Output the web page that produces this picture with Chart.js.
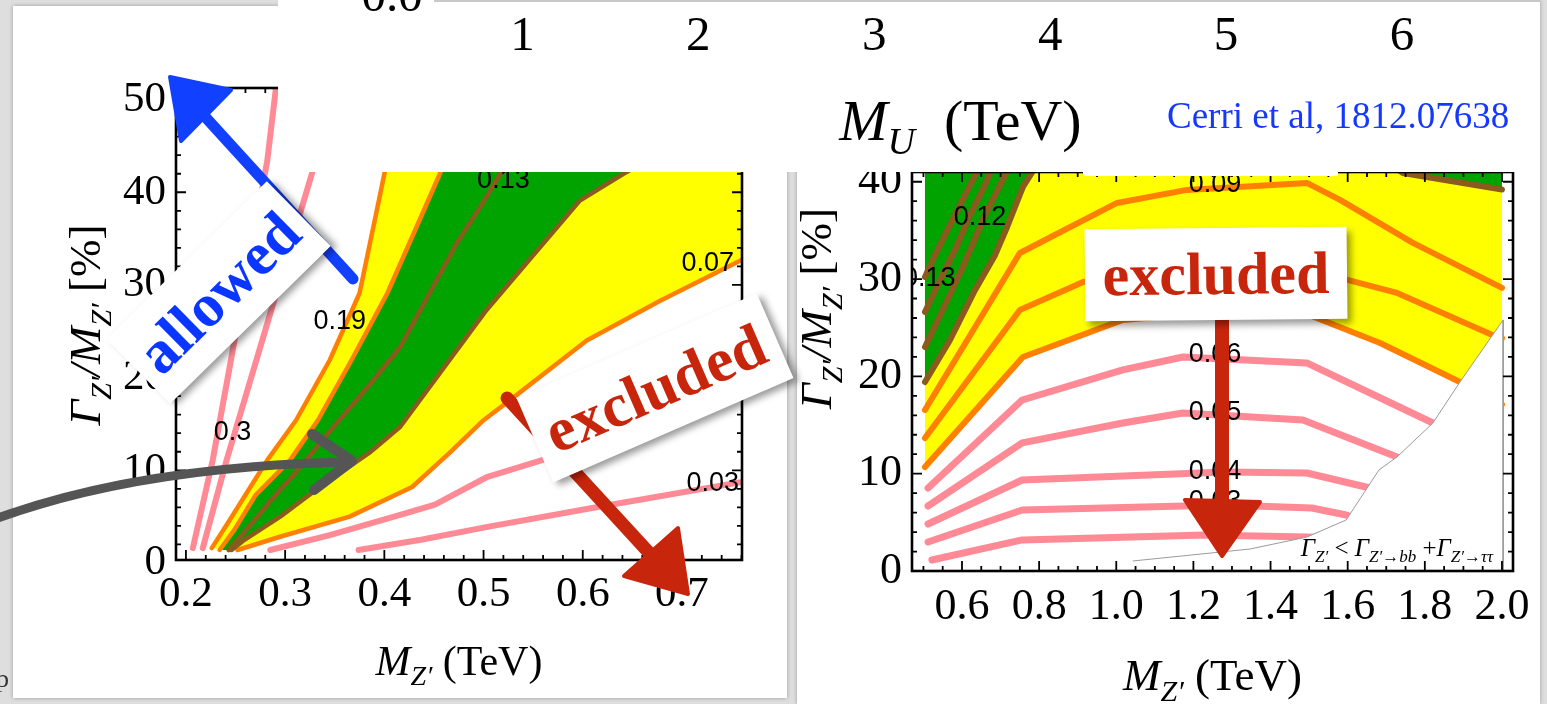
<!DOCTYPE html>
<html><head><meta charset="utf-8">
<script src="https://cdn.jsdelivr.net/npm/chart.js@4.4.1/dist/chart.umd.min.js"></script>
<style>
html,body{margin:0;padding:0}
body{width:1547px;height:704px;overflow:hidden;position:relative;background:#dedede}
.abs{position:absolute;display:block}
#leftCard{left:13px;top:6px;width:774px;height:692px;background:#fff;box-shadow:0 0 4px rgba(0,0,0,.3)}
#rightCard{left:797px;top:0;width:743px;height:704px;background:#fff;box-shadow:0 0 4px rgba(0,0,0,.3)}
#topBox{left:278px;top:0;width:1262px;height:172px;background:#fff}
#bump{left:1083px;top:0;width:255px;height:176px;background:#fff}
#topLine{left:434px;top:0;width:1106px;height:2px;background:#c8c8c8}
.note{position:absolute;background:#fff;box-shadow:4px 5px 7px rgba(0,0,0,.4);text-align:center;font-family:"Liberation Serif",serif;font-weight:bold;white-space:nowrap}
</style></head><body>
<div id="leftCard" class="abs"></div>
<div id="rightCard" class="abs"></div>
<canvas id="cL" class="abs" width="774" height="692" style="left:13px;top:6px"></canvas>
<canvas id="cR" class="abs" width="743" height="604" style="left:797px;top:100px"></canvas>
<svg class="abs" style="left:0;top:0" width="1547" height="704">
  <g stroke-linecap="round" stroke-linejoin="round">
    <line x1="353" y1="279" x2="198" y2="109" stroke="#1240ff" stroke-width="11"/>
    <polygon points="170,77 231,90 181,141" fill="#1240ff" stroke="#1240ff" stroke-width="4"/>
    <line x1="507" y1="398" x2="652" y2="556" stroke="#c8260c" stroke-width="13"/>
    <polygon points="624,576 678,528 688,594" fill="#c8260c" stroke="#c8260c" stroke-width="4"/>
    <line x1="1222" y1="315" x2="1222" y2="520" stroke="#c8260c" stroke-width="14"/>
    <polygon points="1185,500 1260,502 1222,556" fill="#c8260c" stroke="#c8260c" stroke-width="4"/>
    <path d="M -2 518 C 70 492, 180 466, 345 462" fill="none" stroke="#555" stroke-width="9"/>
    <polyline points="312,434 352,461 314,490" fill="none" stroke="#555" stroke-width="10"/>
  </g>
</svg>
<div class="note" style="left:105.5px;top:246.5px;width:225px;height:91px;line-height:91px;font-size:61px;color:#0b36ff;transform:rotate(-44.5deg)">allowed</div>
<div class="note" style="left:524px;top:342px;width:262px;height:92px;line-height:92px;font-size:62px;color:#c8260c;transform:rotate(-23.5deg)">excluded</div>
<div class="note" style="left:1085px;top:228px;width:262px;height:92px;line-height:92px;font-size:60px;color:#c8260c;transform:rotate(-0.6deg)">excluded</div>
<div id="topBox" class="abs"></div>
<div id="bump" class="abs"></div>
<div id="topLine" class="abs"></div>
<canvas id="cT" class="abs" width="1262" height="172" style="left:278px;top:0"></canvas>
<div class="abs" style="left:-4px;top:664px;font:26px 'Liberation Serif',serif;color:#333">p</div>
<script>
// ---------------- data: left panel (M_Z' in TeV, Gamma/M in %) ----------------
const L_X_TICKS = [0.2, 0.3, 0.4, 0.5, 0.6, 0.7];
const L_Y_TICKS = [0, 10, 20, 30, 40, 50];
const L_PINK_030   = [[0.207,1.6],[0.227,11.1],[0.282,43.4],[0.291,51.5]];
const L_PINK_022   = [[0.217,1.6],[0.241,11.1],[0.327,42.0],[0.355,51.5]];
const L_ORANGE_019 = [[0.226,1.6],[0.244,4.6],[0.265,8.2],[0.282,11.1],[0.311,15.4],[0.345,21.9],[0.375,29.1],[0.396,39.9],[0.411,47.7]];
const L_ORANGE_016 = [[0.234,1.4],[0.249,3.6],[0.270,7.3],[0.305,11.1],[0.333,15.4],[0.367,21.9],[0.403,29.1],[0.431,35.9],[0.456,42.0],[0.481,48.8]];
const L_BROWN_013  = [[0.243,1.4],[0.265,4.1],[0.290,7.3],[0.315,10.3],[0.348,14.6],[0.385,19.2],[0.416,23.3],[0.473,34.5],[0.499,38.8],[0.517,42.0],[0.532,45.6]];
const L_BROWN_010  = [[0.246,1.4],[0.259,2.5],[0.295,5.0],[0.335,8.2],[0.385,11.9],[0.416,14.7],[0.503,27.3],[0.597,39.1],[0.641,42.0],[0.718,46.7]];
const L_ORANGE_007 = [[0.252,1.4],[0.294,2.8],[0.365,5.0],[0.428,8.2],[0.466,11.9],[0.500,15.4],[0.527,17.6],[0.604,24.0],[0.678,28.3],[0.764,32.9]];
const L_PINK_005   = [[0.285,1.4],[0.345,3.0],[0.416,5.2],[0.451,6.3],[0.504,9.3],[0.559,11.1],[0.617,13.3],[0.698,15.9],[0.764,18.1]];
const L_PINK_003   = [[0.374,1.4],[0.437,2.5],[0.504,3.9],[0.608,5.9],[0.764,8.8]];
const L_LABELS = [['0.3',0.247,14.1],['0.19',0.355,26.0],['0.13',0.520,41.3],['0.07',0.726,32.3],['0.03',0.731,8.6]];

// ---------------- data: right panel ----------------
const R_X_TICKS = [0.6, 0.8, 1.0, 1.2, 1.4, 1.6, 1.8, 2.0];
const R_Y_TICKS = [0, 10, 20, 30, 40];
const R_PINK_002   = [[0.522,1.13],[0.756,3.19],[1.230,3.70],[1.494,3.49],[1.736,3.19]];
const R_PINK_003   = [[0.512,2.98],[0.756,6.27],[1.282,6.78],[1.507,6.47],[1.596,5.76],[1.787,3.19]];
const R_PINK_004   = [[0.512,4.83],[0.756,9.35],[1.282,10.17],[1.494,10.07],[1.658,8.53],[1.813,6.27]];
const R_PINK_005   = [[0.512,6.68],[0.756,13.16],[1.017,15.21],[1.173,16.24],[1.484,15.52],[1.728,11.72],[1.865,9.35]];
const R_PINK_006   = [[0.512,8.53],[0.756,17.57],[1.017,20.66],[1.173,21.99],[1.494,21.38],[1.821,15.21],[1.943,12.95]];
const R_ORANGE_007 = [[0.504,10.69],[0.758,21.99],[1.017,25.80],[1.248,26.62],[1.5,26.31],[1.684,23.43],[1.891,19.42],[2.0,17.1]];
const R_ORANGE_008 = [[0.504,13.67],[0.750,26.82],[0.914,29.70],[1.165,31.45],[1.5,30.94],[1.728,28.57],[1.987,24.05],[2.0,23.9]];
const R_ORANGE_009 = [[0.504,16.55],[0.750,32.68],[1.002,37.82],[1.183,39.16],[1.494,39.88],[1.580,38.13],[1.769,33.71],[2.0,29.1]];
const R_BROWN_010  = [[0.504,19.42],[0.569,23.74],[0.634,28.88],[0.686,32.48],[0.717,35.35],[0.758,39.47],[0.802,42.24],[0.958,47.38],[1.347,48.92],[1.606,44.81],[1.743,40.90],[2.0,39.2]];
const R_BROWN_011  = [[0.504,23.02],[0.556,27.34],[0.608,31.76],[0.660,36.59],[0.699,39.67],[0.717,41.01],[0.737,42.75]];
const R_BROWN_012  = [[0.504,26.62],[0.543,29.91],[0.582,32.99],[0.621,36.59],[0.660,39.67],[0.673,41.01],[0.693,43.27]];
const R_BROWN_013  = [[0.504,30.22],[0.530,32.48],[0.569,35.56],[0.608,38.64],[0.639,41.01],[0.660,43.27]];
const R_LIMIT      = [[1.043,1.03],[1.347,2.26],[1.494,3.49],[1.596,5.24],[1.681,10.38],[1.728,11.72],[1.821,15.21],[1.891,19.42],[2.003,25.80]];
const R_LABELS = [['0.09',1.256,39.7],['0.06',1.256,22.2],['0.05',1.256,16.3],['0.04',1.256,10.2],['0.03',1.256,7.1],['0.12',0.647,36.3],['0.13',0.515,30.1]];

// ---------------- data: top (M_U) axis ----------------
const MU_TICKS = [1, 2, 3, 4, 5, 6];

// ---------------- styling helpers ----------------
const PINK = '#ff8a95', ORANGE = '#ff8000', BROWN = '#8b5a1e', YELLOW = '#ffff00', GREEN = '#00a300';
const SERIF = '"Liberation Serif", "Times New Roman", serif';
const pts = a => a.map(([x, y]) => ({x, y}));
const rev = a => a.slice().reverse();
function lineDS(arr, color, w) {
  return {data: pts(arr), borderColor: color, borderWidth: w, pointRadius: 0, fill: false, tension: 0,
          borderJoinStyle: 'round', borderCapStyle: 'round', order: 10};
}
function polyDS(arr, color, order, stroke) {
  return {data: pts(arr), borderColor: stroke || 'rgba(0,0,0,0)', borderWidth: stroke ? 1 : 0,
          backgroundColor: color, fill: 'shape', pointRadius: 0, tension: 0, order};
}
function fontOf(p, size) {
  const s = p.sub ? Math.round(size * 0.66) : size;
  return (p.it ? 'italic ' : '') + s + 'px ' + SERIF;
}
function drawRich(ctx, parts, size, x, y, align) {
  let w = 0;
  for (const p of parts) { ctx.font = fontOf(p, size); w += ctx.measureText(p.t).width; }
  let cx = align === 'left' ? x : align === 'right' ? x - w : x - w / 2;
  ctx.textAlign = 'left'; ctx.textBaseline = 'alphabetic';
  for (const p of parts) {
    ctx.font = fontOf(p, size);
    ctx.fillText(p.t, cx, y + (p.sub ? size * 0.24 : 0));
    cx += ctx.measureText(p.t).width;
  }
}
const GZ_TITLE = [{t:'Γ',it:1},{t:'Z′',it:1,sub:1},{t:'/',it:1},{t:'M',it:1},{t:'Z′',it:1,sub:1},{t:' [%]'}];
const MZ_TITLE = [{t:'M',it:1},{t:'Z′',it:1,sub:1},{t:' (TeV)'}];
const MU_TITLE = [{t:'M',it:1},{t:'U',it:1,sub:1},{t:'  (TeV)'}];
const LIMIT_TEXT = [{t:'Γ',it:1},{t:'Z′',it:1,sub:1},{t:' < '},{t:'Γ',it:1},{t:'Z′→bb',it:1,sub:1},{t:' +'},{t:'Γ',it:1},{t:'Z′→ττ',it:1,sub:1}];

function framePlugin(xMajor, xMinor, yMajor, yMinor) {
  return {id: 'frame', afterDraw(chart) {
    const {ctx, chartArea: a} = chart; const xs = chart.scales.x, ys = chart.scales.y;
    ctx.save(); ctx.strokeStyle = '#000'; ctx.lineWidth = 1.8; ctx.beginPath();
    const xt = (v, len) => { const p = xs.getPixelForValue(v); if (p < a.left - 0.5 || p > a.right + 0.5) return;
      ctx.moveTo(p, a.bottom); ctx.lineTo(p, a.bottom - len); ctx.moveTo(p, a.top); ctx.lineTo(p, a.top + len); };
    const yt = (v, len) => { const p = ys.getPixelForValue(v); if (p < a.top - 0.5 || p > a.bottom + 0.5) return;
      ctx.moveTo(a.left, p); ctx.lineTo(a.left + len, p); ctx.moveTo(a.right, p); ctx.lineTo(a.right - len, p); };
    for (let i = 0; i < 400; i++) { const v = xMinor[0] + i * xMinor[1]; if (v > xs.max) break; xt(v, 5); }
    for (let i = 0; i < 400; i++) { const v = yMinor[0] + i * yMinor[1]; if (v > ys.max) break; yt(v, 5); }
    xMajor.forEach(v => xt(v, 10)); yMajor.forEach(v => yt(v, 10));
    ctx.stroke();
    ctx.lineWidth = 2.6; ctx.strokeRect(a.left, a.top, a.right - a.left, a.bottom - a.top);
    ctx.restore();
  }};
}
function labelPlugin(items, size, extra) {
  return {id: 'clabels', afterDatasetsDraw(chart) {
    const {ctx, chartArea: a} = chart; const xs = chart.scales.x, ys = chart.scales.y;
    ctx.save(); ctx.beginPath(); ctx.rect(a.left, a.top, a.right - a.left, a.bottom - a.top); ctx.clip();
    ctx.fillStyle = '#000'; ctx.font = size + 'px "Liberation Sans", Arial, sans-serif';
    ctx.textAlign = 'center'; ctx.textBaseline = 'middle';
    for (const [t, x, y] of items) ctx.fillText(t, xs.getPixelForValue(x), ys.getPixelForValue(y));
    if (extra) extra(ctx, xs, ys);
    ctx.restore();
  }};
}
function titlePlugin(yOffX, yOffY, xOffY, ySize, xSize) {
  return {id: 'titles', afterDraw(chart) {
    const {ctx, chartArea: a} = chart;
    ctx.save(); ctx.fillStyle = '#000';
    ctx.translate(a.left - yOffX, (a.top + a.bottom) / 2 + yOffY); ctx.rotate(-Math.PI / 2);
    drawRich(ctx, GZ_TITLE, ySize, 0, 0, 'center');
    ctx.restore();
    ctx.save(); ctx.fillStyle = '#000';
    drawRich(ctx, MZ_TITLE, xSize, (a.left + a.right) / 2, a.bottom + xOffY, 'center');
    ctx.restore();
  }};
}
function axisCfg(min, max, ticks, fmt, size, pad, fitKey, fitVal) {
  return {type: 'linear', min, max,
    grid: {display: false, drawTicks: false}, border: {display: false},
    afterBuildTicks: s => { s.ticks = ticks.map(v => ({value: v})); },
    afterFit: s => { s[fitKey] = fitVal; },
    ticks: {autoSkip: false, maxRotation: 0, padding: pad, color: '#000', callback: fmt,
            font: {family: SERIF, size}}};
}
const baseOpts = {responsive: false, animation: false, devicePixelRatio: 1,
  plugins: {legend: {display: false}, tooltip: {enabled: false}}};

// ---------------- left chart ----------------
const yellowL = [...L_ORANGE_019, [0.411, 60], [0.80, 60], [0.80, 33.4], ...rev(L_ORANGE_007)];
const greenL  = [...L_ORANGE_016, [0.481, 60], [0.718, 60], ...rev(L_BROWN_010)];
new Chart(document.getElementById('cL'), {
  type: 'line',
  data: {datasets: [
    polyDS(yellowL, YELLOW, 20), polyDS(greenL, GREEN, 19),
    lineDS(L_PINK_030, PINK, 6), lineDS(L_PINK_022, PINK, 6),
    lineDS(L_ORANGE_019, ORANGE, 4.5), lineDS(L_ORANGE_016, ORANGE, 4.5),
    lineDS(L_BROWN_013, BROWN, 4.5), lineDS(L_BROWN_010, BROWN, 4.5),
    lineDS(L_ORANGE_007, ORANGE, 4.5), lineDS(L_PINK_005, PINK, 6), lineDS(L_PINK_003, PINK, 6)
  ]},
  options: Object.assign({}, baseOpts, {
    layout: {padding: {left: 0, right: 45, top: 82, bottom: 0}},
    scales: {
      x: axisCfg(0.19, 0.7605, L_X_TICKS, v => v.toFixed(1), 43, 9, 'height', 138),
      y: axisCfg(0.32, 51.25, L_Y_TICKS, v => String(v), 43, 10, 'width', 163)
    }
  }),
  plugins: [framePlugin(L_X_TICKS, [0.2, 0.02], L_Y_TICKS, [0, 2]), labelPlugin(L_LABELS, 27),
            titlePlugin(76, 1, 115, 45, 42)]
});

// ---------------- right chart ----------------
const yellowR = [...R_ORANGE_007, [2.0, 60], [0.504, 60]];
const greenR  = [...R_BROWN_010, [2.0, 60], [0.504, 60]];
const limitR  = [...R_LIMIT, [2.003, 0], [1.043, 0]];
new Chart(document.getElementById('cR'), {
  type: 'line',
  data: {datasets: [
    polyDS(yellowR, YELLOW, 20), polyDS(greenR, GREEN, 19),
    lineDS(R_PINK_002, PINK, 7), lineDS(R_PINK_003, PINK, 7), lineDS(R_PINK_004, PINK, 7),
    lineDS(R_PINK_005, PINK, 7), lineDS(R_PINK_006, PINK, 7),
    lineDS(R_ORANGE_007, ORANGE, 6), lineDS(R_ORANGE_008, ORANGE, 6), lineDS(R_ORANGE_009, ORANGE, 6),
    lineDS(R_BROWN_010, BROWN, 6), lineDS(R_BROWN_011, BROWN, 6), lineDS(R_BROWN_012, BROWN, 6), lineDS(R_BROWN_013, BROWN, 6),
    polyDS(limitR, '#ffffff', 1, '#9a9a9a')
  ]},
  options: Object.assign({}, baseOpts, {
    layout: {padding: {left: 0, right: 27, top: 72, bottom: 0}},
    scales: {
      x: axisCfg(0.4704, 2.0286, R_X_TICKS, v => v.toFixed(1), 44, 10, 'height', 133),
      y: axisCfg(0, 41.0, R_Y_TICKS, v => String(v), 44, 10, 'width', 115)
    }
  }),
  plugins: [framePlugin(R_X_TICKS, [0.5, 0.05], R_Y_TICKS, [0, 2]),
            labelPlugin(R_LABELS, 27, (ctx, xs, ys) => {
              ctx.fillStyle = '#000';
              drawRich(ctx, LIMIT_TEXT, 25, xs.getPixelForValue(1.977), ys.getPixelForValue(1.55), 'right');
            }),
            titlePlugin(81, -63, 119, 45, 45)]
});

// ---------------- top M_U axis ----------------
new Chart(document.getElementById('cT'), {
  type: 'line',
  data: {datasets: []},
  options: Object.assign({}, baseOpts, {
    layout: {padding: 0},
    scales: {
      x: axisCfg(-0.390, 6.785, MU_TICKS, v => String(v), 49, 6, 'height', 170),
      y: {display: false, min: 0, max: 1}
    }
  }),
  plugins: [{id: 'mu', afterDraw(chart) {
    const ctx = chart.ctx, xs = chart.scales.x;
    ctx.save(); ctx.fillStyle = '#000';
    ctx.font = '49px ' + SERIF; ctx.textAlign = 'center'; ctx.textBaseline = 'alphabetic';
    ctx.fillText('0.0', 114, 11);
    drawRich(ctx, MU_TITLE, 58, xs.getPixelForValue(3.49), 140, 'center');
    ctx.fillStyle = '#1438ff'; ctx.font = '37px ' + SERIF; ctx.textAlign = 'left';
    ctx.fillText('Cerri et al, 1812.07638', 889, 128);
    ctx.restore();
  }}]
});
</script>
</body></html>
